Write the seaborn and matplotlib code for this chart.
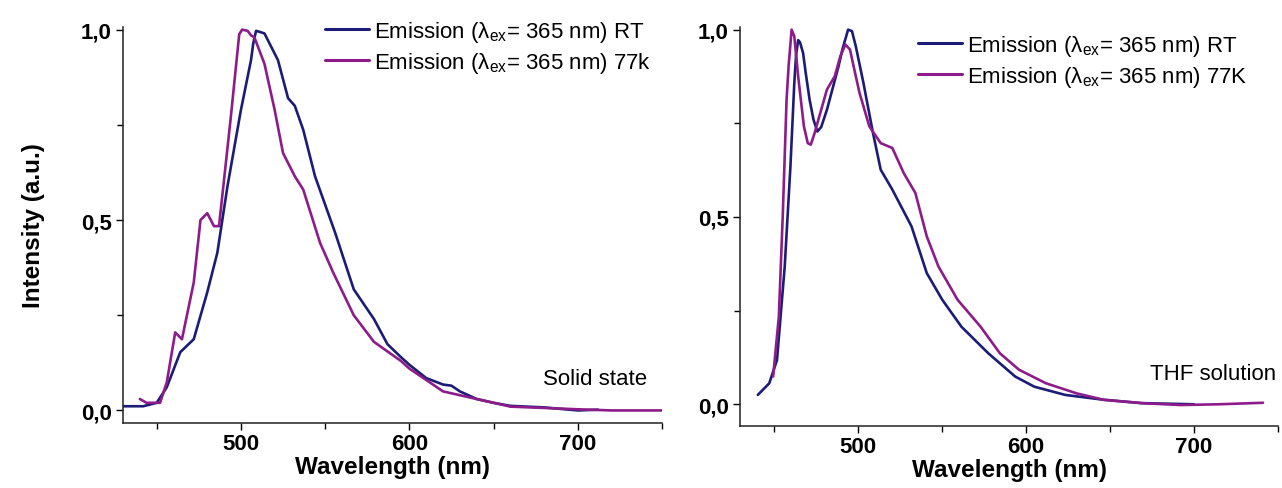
import numpy as np
import pandas as pd
import matplotlib
matplotlib.use("Agg")
import matplotlib.pyplot as plt
import matplotlib.ticker as mticker
import seaborn as sns

# ---------------- data ----------------
# Solid state, RT
solid_rt_wl = [430, 442, 450, 456, 464, 472, 480, 486, 492, 500, 506, 507.3, 509, 512, 514, 522, 528, 532,
               537, 544, 556, 567, 579, 587, 595, 600, 610, 620, 625, 630, 640, 650, 660, 680, 700, 712]
solid_rt_int = [0.011, 0.011, 0.02, 0.061, 0.153, 0.187, 0.31, 0.414, 0.588, 0.789, 0.92, 0.963, 0.997,
                0.993, 0.99, 0.92, 0.82, 0.80, 0.737, 0.615, 0.466, 0.318, 0.24, 0.174, 0.14, 0.12, 0.085,
                0.068, 0.065, 0.05, 0.03, 0.02, 0.012, 0.008, 0.0, 0.002]
# Solid state, 77 K
solid_77_wl = [440, 444, 452, 456, 461, 465, 472, 476, 480, 484, 487, 494, 499, 500.7, 504, 506, 508, 514, 520,
               525, 532, 537, 547, 555, 567, 579, 595, 600, 620, 640, 660, 700, 720, 750]
solid_77_int = [0.03, 0.02, 0.02, 0.074, 0.205, 0.187, 0.336, 0.50, 0.518, 0.484, 0.484, 0.77, 0.988, 1.0,
                0.997, 0.985, 0.98, 0.91, 0.79, 0.676, 0.615, 0.58, 0.44, 0.36, 0.25, 0.18, 0.13, 0.11,
                0.05, 0.03, 0.01, 0.003, 0.0, 0.0]
# THF solution, RT
thf_rt_wl = [440.6, 447.4, 452, 456.6, 460, 462.3, 463.4, 464.6, 465.7, 467.5, 469.1, 471.4, 473.7, 476,
             478.3, 481.7, 488.6, 490.9, 494.3, 496.6, 498.9, 503.4, 509.1, 513.7, 520.6, 532, 541.1,
             550.3, 561.7, 577.7, 593.7, 605, 623.4, 646.3, 669, 700]
thf_rt_int = [0.025, 0.056, 0.118, 0.368, 0.635, 0.858, 0.935, 0.972, 0.966, 0.938, 0.884, 0.813, 0.76,
              0.728, 0.74, 0.786, 0.902, 0.947, 1.0, 0.996, 0.955, 0.858, 0.724, 0.626, 0.573, 0.475,
              0.35, 0.279, 0.207, 0.136, 0.074, 0.047, 0.025, 0.012, 0.003, 0.0]
# THF solution, 77 K
thf_77_wl = [449.7, 453.1, 455.4, 457.7, 458.9, 460.7, 462.3, 464.6, 468, 470.3, 472.1, 474.4, 476,
             481.7, 486.3, 489.7, 492.7, 495.4, 498.9, 501.1, 506.9, 513.7, 520.6, 527.4, 534.3, 541.1,
             548, 559.4, 573.1, 584.6, 596, 612, 630.3, 646.3, 669, 692, 714.9, 741.1]
thf_77_int = [0.074, 0.234, 0.5, 0.813, 0.902, 1.0, 0.982, 0.875, 0.742, 0.697, 0.693, 0.724, 0.75,
              0.84, 0.875, 0.929, 0.96, 0.947, 0.875, 0.831, 0.742, 0.697, 0.684, 0.617, 0.564, 0.448,
              0.368, 0.279, 0.207, 0.136, 0.092, 0.056, 0.029, 0.012, 0.003, -0.002, 0.0, 0.004]

labels_left = ["Emission (λ$_\\mathregular{ex}$= 365 nm) RT", "Emission (λ$_\\mathregular{ex}$= 365 nm) 77k"]
labels_right = ["Emission (λ$_\\mathregular{ex}$= 365 nm) RT", "Emission (λ$_\\mathregular{ex}$= 365 nm) 77K"]
panel_notes = ["Solid state", "THF solution"]

# ---------------- style ----------------
sns.set_style("ticks")
plt.rcParams["font.family"] = ["Liberation Sans", "DejaVu Sans"]
plt.rcParams["mathtext.fontset"] = "custom"
plt.rcParams["mathtext.rm"] = "Liberation Sans"
plt.rcParams["mathtext.it"] = "Liberation Sans:italic"
plt.rcParams["mathtext.bf"] = "Liberation Sans:bold"
plt.rcParams["text.color"] = "black"
plt.rcParams["axes.labelcolor"] = "black"
plt.rcParams["xtick.color"] = "black"
plt.rcParams["ytick.color"] = "black"

BLUE = "#1c1c78"
PURPLE = "#8d1c8a"

fig = plt.figure(figsize=(12.82, 4.89), dpi=100)
axL = fig.add_axes([123 / 1282, 65 / 489, 539 / 1282, 396 / 489])
axR = fig.add_axes([740 / 1282, 62 / 489, 538 / 1282, 399 / 489])


def draw(ax, wl1, i1, wl2, i2, labels, ylim, note, note_xy, leg_xy):
    d1 = pd.DataFrame({"wl": wl1, "I": i1})
    d2 = pd.DataFrame({"wl": wl2, "I": i2})
    sns.lineplot(data=d1, x="wl", y="I", ax=ax, color=BLUE, lw=1.9, label=labels[0], estimator=None, sort=False)
    sns.lineplot(data=d2, x="wl", y="I", ax=ax, color=PURPLE, lw=1.9, label=labels[1], estimator=None, sort=False)
    ax.set_xlim(430, 750)
    ax.set_ylim(*ylim)
    for s in ["top", "right"]:
        ax.spines[s].set_visible(False)
    for s in ["left", "bottom"]:
        ax.spines[s].set_linewidth(1.1)
        ax.spines[s].set_color("#222222")
    ax.xaxis.set_major_locator(mticker.FixedLocator([500, 600, 700]))
    ax.xaxis.set_minor_locator(mticker.FixedLocator([450, 550, 650, 750]))
    ax.yaxis.set_major_locator(mticker.FixedLocator([0.0, 0.5, 1.0]))
    ax.yaxis.set_minor_locator(mticker.FixedLocator([0.25, 0.75]))
    ax.yaxis.set_major_formatter(mticker.FuncFormatter(lambda v, p: f"{v:.1f}".replace(".", ",")))
    ax.tick_params(axis="both", which="major", direction="out", length=5, width=1.0, labelsize=16, pad=3)
    ax.tick_params(axis="x", which="major", pad=2)
    ax.tick_params(axis="both", which="minor", direction="out", length=4, width=1.0)
    for lab in ax.get_xticklabels() + ax.get_yticklabels():
        lab.set_fontweight("bold")
    ax.set_xlabel("Wavelength (nm)", fontsize=17.5, fontweight="bold", labelpad=1)
    ax.set_ylabel("")
    ax.text(note_xy[0], note_xy[1], note, fontsize=16, transform=fig.transFigure, ha="left", va="center")
    leg = ax.legend(loc="upper left", bbox_to_anchor=leg_xy, bbox_transform=fig.transFigure,
                    frameon=False, fontsize=16, handlelength=2.0, handletextpad=0.2,
                    borderpad=0, borderaxespad=0, labelspacing=0.25)
    for h in leg.get_lines():
        h.set_linewidth(2.2)


draw(axL, solid_rt_wl, solid_rt_int, solid_77_wl, solid_77_int, labels_left, (-0.033, 1.007),
     panel_notes[0], (543 / 1282, 1 - 380 / 489), (325 / 1282, 1 - 20 / 489))
draw(axR, thf_rt_wl, thf_rt_int, thf_77_wl, thf_77_int, labels_right, (-0.058, 1.007),
     panel_notes[1], (1150 / 1282, 1 - 375 / 489), (918 / 1282, 1 - 34 / 489))

axL.set_ylabel("Intensity (a.u.)", fontsize=17.5, fontweight="bold", labelpad=26)

fig.savefig("out.png", dpi=100)
